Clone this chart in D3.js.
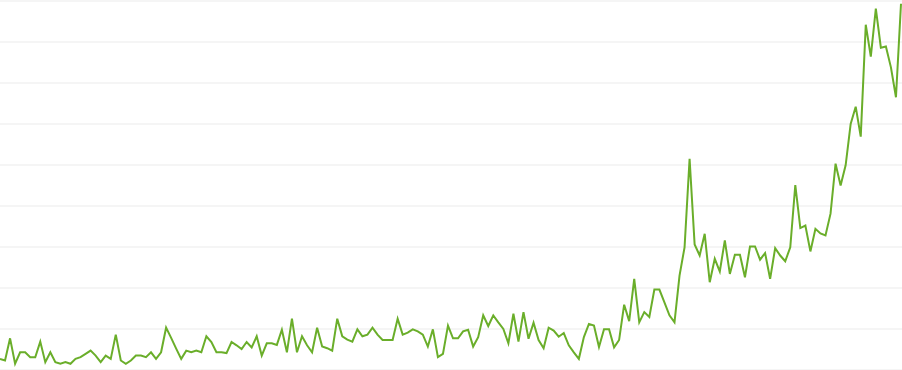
<!DOCTYPE html>
<html>
<head>
<meta charset="utf-8">
<script src="https://cdn.jsdelivr.net/npm/d3@7"></script>
<style>
html,body{margin:0;padding:0;background:#fff;}
svg{display:block;}
</style>
</head>
<body>
<svg id="chart" width="902" height="370"></svg>
<script>
const values = [
2.6,2.2,7.6,1.4,4.2,4.2,3.0,3.0,6.8,1.8,
4.2,1.8,1.4,1.8,1.4,2.6,3.0,3.8,4.6,3.4,
1.8,3.4,2.6,8.5,2.2,1.4,2.2,3.4,3.4,3.0,
4.2,2.6,4.2,10.2,7.7,5.1,2.6,4.6,4.2,4.6,
4.2,8.1,6.7,4.2,4.2,4.0,6.7,5.9,5.0,6.7,
5.4,8.1,3.4,6.4,6.4,6.0,9.7,4.2,12.4,4.2,
8.1,5.9,4.2,10.2,5.6,5.2,4.6,12.4,8.1,7.3,
6.8,9.8,8.1,8.5,10.2,8.5,7.2,7.2,7.2,12.4,
8.5,9.0,9.8,9.3,8.5,5.6,9.8,3.0,3.8,10.7,
7.6,7.6,9.3,9.7,5.6,7.9,13.2,10.6,13.2,11.5,
9.9,6.4,13.6,6.8,14.0,7.5,11.4,7.2,5.2,10.2,
9.5,8.0,8.9,5.9,4.2,2.6,7.9,11.1,10.7,5.5,
9.8,9.8,5.4,7.2,15.8,11.8,22.1,11.5,14.0,12.8,
19.5,19.5,16.4,13.2,11.5,22.9,29.8,51.4,30.5,27.8,
33.1,21.3,27.0,23.9,31.5,23.3,28.0,28.0,22.5,30.0,
30.0,26.8,28.4,22.1,29.6,27.8,26.4,29.8,45.0,34.5,
35.1,28.8,34.3,33.2,32.7,38.0,50.2,44.9,49.8,59.9,
64.1,56.8,84.1,76.3,88.0,78.5,78.8,73.7,66.4,89.2
];
const gridTicks = [0,10,20,30,40,50,60,70,80,90];

const W = 902, H = 370;
const svg = d3.select("#chart");

const x = d3.scaleLinear().domain([0, values.length - 1]).range([0, 901]);
const y = d3.scaleLinear().domain([0, 90]).range([369.5, 0.5]);

const grid = svg.append("g")
  .attr("class", "grid")
  .call(d3.axisLeft(y).tickValues(gridTicks).tickSize(-W).tickFormat(""));
grid.select(".domain").remove();
grid.selectAll(".tick line").attr("stroke", "#ebebeb").attr("stroke-width", 1);
grid.selectAll(".tick text").remove();

const line = d3.line()
  .x((d, i) => x(i))
  .y(d => y(d));

svg.append("path")
  .datum(values)
  .attr("fill", "none")
  .attr("stroke", "#6aae2a")
  .attr("stroke-width", 2)
  .attr("stroke-linejoin", "miter")
  .attr("d", line);
</script>
</body>
</html>
